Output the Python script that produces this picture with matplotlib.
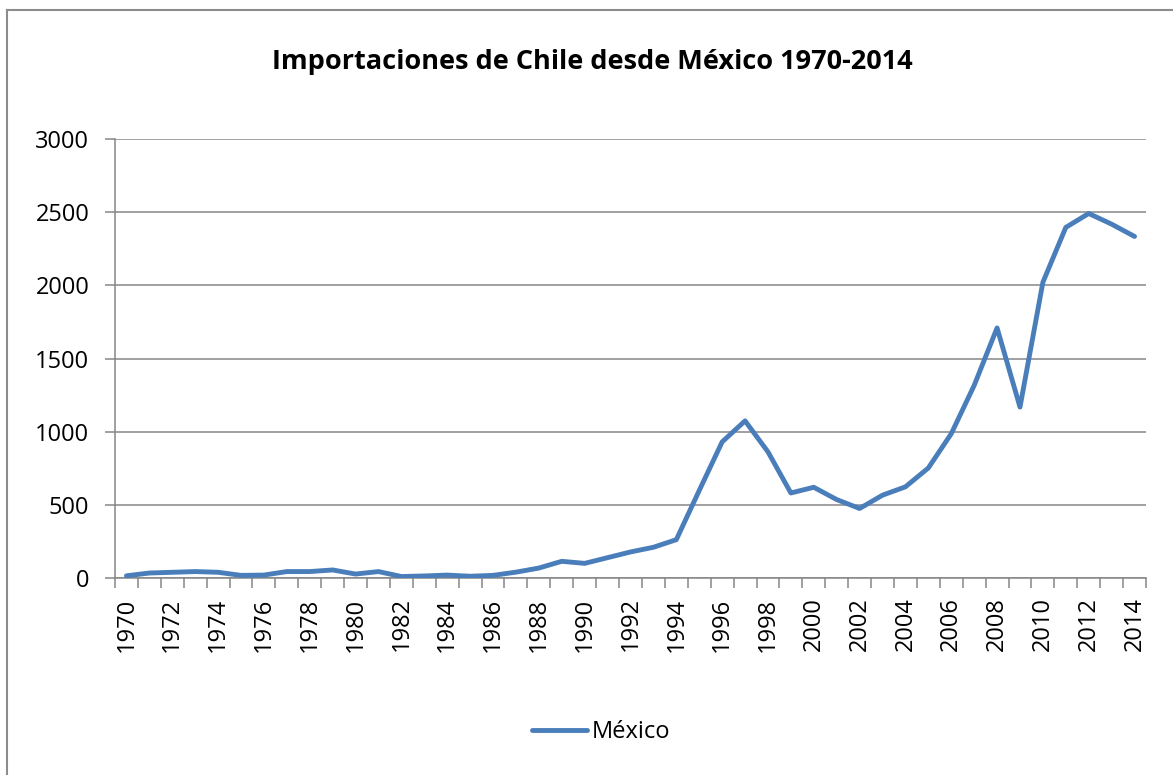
import numpy as np
import matplotlib.pyplot as plt
from matplotlib.lines import Line2D

# datos
years = list(range(1970, 2015))
mexico = [15, 34, 39, 44, 39, 18, 20, 44, 44, 55,
          27, 44, 10, 14, 20, 12, 18, 40, 68, 114,
          100, 139, 178, 210, 262, 598, 930, 1074, 862, 581,
          620, 536, 475, 566, 623, 752, 986, 1316, 1709, 1168,
          2021, 2396, 2491, 2418, 2334]
y_ticks = [0, 500, 1000, 1500, 2000, 2500, 3000]

plt.rcParams['font.family'] = ['Open Sans', 'DejaVu Sans']

W, H = 1173, 775
fig = plt.figure(figsize=(W / 100, H / 100), dpi=100)
fig.patch.set_facecolor('white')

# borde exterior (solo izquierda y arriba visibles)
fig.add_artist(Line2D([7 / W, 7 / W], [0, 1 - 10 / H], color='#8c8c8c', lw=1.5,
                      transform=fig.transFigure))
fig.add_artist(Line2D([7 / W, 1], [1 - 10 / H, 1 - 10 / H], color='#8c8c8c', lw=1.5,
                      transform=fig.transFigure))

ax = fig.add_axes([115 / W, 1 - 578 / H, (1146 - 115) / W, (578 - 139) / H])

x = np.arange(len(years))

ax.plot(x, mexico, color='#4a7ebb', lw=3.5, solid_joinstyle='round',
        solid_capstyle='round', label='México', zorder=3)

ax.set_yticks(y_ticks)
ax.set_yticklabels([str(v) for v in y_ticks], fontsize=17)
ax.yaxis.grid(True, color='#868686', lw=1.1)
ax.set_axisbelow(True)

# etiquetas en el centro de cada categoría, marcas entre categorías
ax.set_xticks(x[::2])
ax.set_xticklabels([str(y) for y in years[::2]], rotation=90, fontsize=17)
ax.set_xticks(np.arange(-0.5, len(years)), minor=True)
ax.tick_params(axis='x', which='major', length=0, pad=14)
ax.tick_params(axis='x', which='minor', length=7.5, color='#868686', width=1.1)
ax.tick_params(axis='y', length=7.5, color='#868686', width=1.1, pad=11)

for s in ['top', 'right']:
    ax.spines[s].set_visible(False)
for s in ['left', 'bottom']:
    ax.spines[s].set_color('#868686')
    ax.spines[s].set_linewidth(1.1)

ax.set_xlim(-0.5, len(years) - 0.5)
ax.set_ylim(0, 3000)

fig.text(592 / W, 1 - 62 / H, 'Importaciones de Chile desde México 1970-2014',
         ha='center', va='center', fontsize=19.5, fontweight='bold')

leg = fig.legend(loc='center', bbox_to_anchor=(601 / W, 1 - 732 / H), frameon=False,
                 fontsize=17, handlelength=2.3, handletextpad=0.2)

fig.savefig('out.png', dpi=100)
